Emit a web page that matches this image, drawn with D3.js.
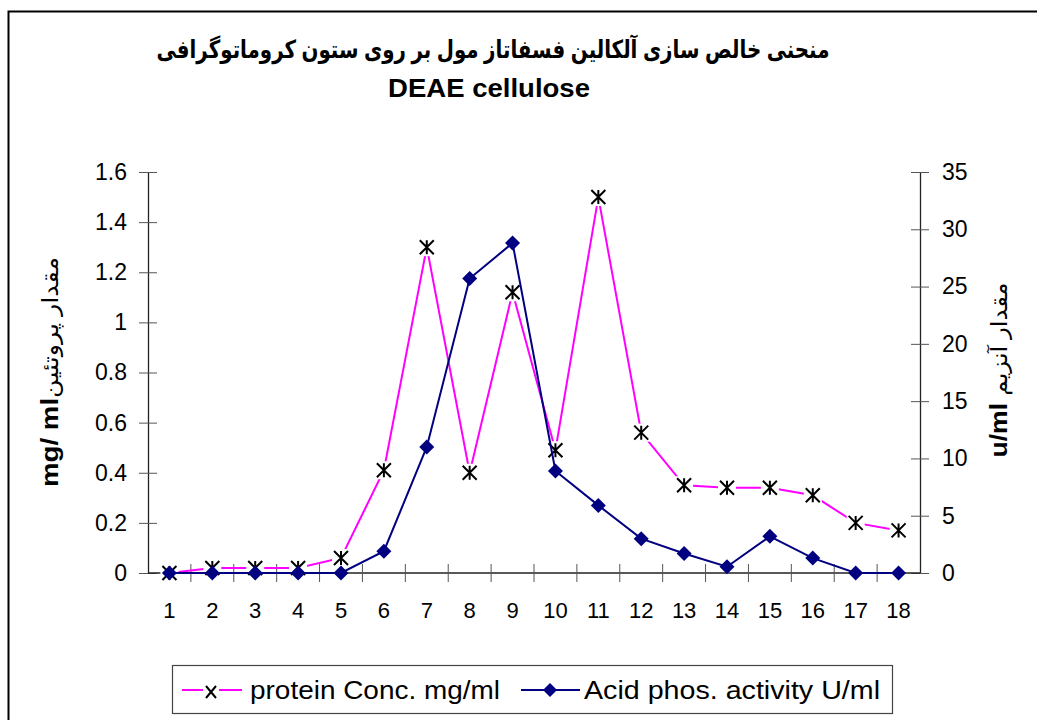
<!DOCTYPE html>
<html>
<head>
<meta charset="utf-8">
<script src="https://cdn.jsdelivr.net/npm/d3@7"></script>
<style>
  body { margin: 0; background: #fff; }
  svg { display: block; font-family: "Liberation Sans", Arial, "DejaVu Sans", sans-serif; }
</style>
</head>
<body>
<svg id="chart" width="1037" height="720"></svg>
<script>
// fractions 1..18
const fractions = ['1', '2', '3', '4', '5', '6', '7', '8', '9', '10', '11', '12', '13', '14', '15', '16', '17', '18'];
// protein Conc. mg/ml (left axis)
const protein = [0, 0.02, 0.02, 0.02, 0.06, 0.41, 1.3, 0.40, 1.12, 0.49, 1.5, 0.56, 0.35, 0.34, 0.34, 0.31, 0.20, 0.17];
// Acid phos. activity U/ml (right axis)
const activity = [0, 0, 0, 0, 0, 1.9, 11.0, 25.7, 28.8, 8.9, 5.9, 3.0, 1.7, 0.55, 3.2, 1.3, 0, 0];
const leftTicks = [0, 0.2, 0.4, 0.6, 0.8, 1, 1.2, 1.4, 1.6];
const rightTicks = [0, 5, 10, 15, 20, 25, 30, 35];

const titleLine1 = 'منحنی خالص سازی آلکالین فسفاتاز مول بر روی ستون کروماتوگرافی';
const titleLine2 = 'DEAE cellulose';
const leftLabel = ['mg/ ml', 'مقدار پروتئین'];
const rightLabel = ['u/ml ', 'مقدار آنزیم'];
const seriesNames = ['protein Conc. mg/ml', 'Acid phos. activity U/ml'];

const PINK = '#ff00ff', NAVY = '#000080';

const svg = d3.select('#chart');
const plot = { left: 148, right: 920, top: 172, bottom: 573 };

// outer chart border (only top and left visible in the crop)
svg.append('path')
    .attr('d', 'M8.5,720 V11.5 H1037')
    .attr('fill', 'none').attr('stroke', '#000').attr('stroke-width', 2);

// titles
svg.append('text')
    .attr('x', 493).attr('y', 58)
    .attr('text-anchor', 'middle')
    .attr('font-size', 25).attr('font-weight', 'bold')
    .attr('direction', 'rtl')
    .attr('textLength', 673).attr('lengthAdjust', 'spacingAndGlyphs')
    .text(titleLine1);
svg.append('text')
    .attr('x', 489).attr('y', 97)
    .attr('text-anchor', 'middle')
    .attr('font-size', 26).attr('font-weight', 'bold')
    .attr('textLength', 202).attr('lengthAdjust', 'spacingAndGlyphs')
    .text(titleLine2);

const x = d3.scaleBand().domain(fractions).range([plot.left, plot.right]);
const yL = d3.scaleLinear().domain([0, 1.6]).range([plot.bottom, plot.top]);
const yR = d3.scaleLinear().domain([0, 35]).range([plot.bottom, plot.top]);
const cx = function (d, i) { return x(fractions[i]) + x.bandwidth() / 2; };

// left axis
const axL = svg.append('g')
    .attr('transform', 'translate(' + plot.left + ',0)')
    .call(d3.axisLeft(yL).tickValues(leftTicks).tickFormat(d3.format('~g')).tickSizeInner(9).tickSizeOuter(0).tickPadding(12));
axL.selectAll('.tick line').attr('x2', 9).attr('x1', -9);

// right axis
const axR = svg.append('g')
    .attr('transform', 'translate(' + plot.right + ',0)')
    .call(d3.axisRight(yR).tickValues(rightTicks).tickSizeInner(9).tickSizeOuter(0).tickPadding(13));
axR.selectAll('.tick line').attr('x1', -9).attr('x2', 9);

// bottom axis: labels centred in bands, ticks on band boundaries
const axB = svg.append('g')
    .attr('transform', 'translate(0,' + plot.bottom + ')')
    .call(d3.axisBottom(x).tickSize(0).tickPadding(29));
axB.select('.domain').attr('d', 'M' + plot.left + ',0H' + plot.right);
axB.selectAll('.boundary')
    .data(fractions.slice(1))
    .join('line')
    .attr('class', 'boundary')
    .attr('x1', function (d) { return x(d); }).attr('x2', function (d) { return x(d); })
    .attr('y1', -9).attr('y2', 9)
    .attr('stroke', '#555');

[axL, axR, axB].forEach(function (a) {
    a.selectAll('text').attr('font-size', 23).attr('fill', '#000')
        .attr('font-family', '"Liberation Sans", Arial, sans-serif');
    a.select('.domain').attr('stroke', '#222').attr('stroke-width', 1.3);
    a.selectAll('.tick line').attr('stroke', '#555');
});
axB.selectAll('text').attr('font-size', 22);

// axis titles
const lt = svg.append('text')
    .attr('transform', 'translate(58,372) rotate(-90)')
    .attr('text-anchor', 'middle')
    .attr('font-size', 24)
    .attr('textLength', 230).attr('lengthAdjust', 'spacingAndGlyphs');
lt.append('tspan').attr('font-weight', 'bold').text(leftLabel[0]);
lt.append('tspan').attr('font-size', 22).text(leftLabel[1]);

const rt = svg.append('text')
    .attr('transform', 'translate(1007,370) rotate(-90)')
    .attr('text-anchor', 'middle')
    .attr('font-size', 24)
    .attr('textLength', 175).attr('lengthAdjust', 'spacingAndGlyphs');
rt.append('tspan').attr('font-weight', 'bold').text(rightLabel[0]);
rt.append('tspan').attr('font-size', 22).text(rightLabel[1]);

// protein series
const lineL = d3.line().x(cx).y(function (d) { return yL(d); });
svg.append('path').datum(protein)
    .attr('d', lineL)
    .attr('fill', 'none').attr('stroke', PINK).attr('stroke-width', 2);

function asterisk(g, s) {
    g.append('rect').attr('x', -s - 2).attr('y', -s - 2).attr('width', 2 * s + 4).attr('height', 2 * s + 4).attr('fill', '#fff');
    g.append('path')
        .attr('d', 'M' + (-s) + ',' + (-s) + 'L' + s + ',' + s + 'M' + (-s) + ',' + s + 'L' + s + ',' + (-s) + 'M0,' + (-s) + 'V' + s)
        .attr('stroke', '#000').attr('stroke-width', 2).attr('fill', 'none');
}

svg.selectAll('.pmark')
    .data(protein)
    .join('g')
    .attr('class', 'pmark')
    .attr('transform', function (d, i) { return 'translate(' + cx(d, i) + ',' + yL(d) + ')'; })
    .each(function () { asterisk(d3.select(this), 7); });

// activity series
const lineR = d3.line().x(cx).y(function (d) { return yR(d); });
svg.append('path').datum(activity)
    .attr('d', lineR)
    .attr('fill', 'none').attr('stroke', NAVY).attr('stroke-width', 2);

const diamond = 'M0,-7.5L7.5,0L0,7.5L-7.5,0Z';
svg.selectAll('.amark')
    .data(activity)
    .join('path')
    .attr('class', 'amark')
    .attr('d', diamond)
    .attr('fill', NAVY)
    .attr('transform', function (d, i) { return 'translate(' + cx(d, i) + ',' + yR(d) + ')'; });

// legend
const lg = svg.append('g');
lg.append('rect')
    .attr('x', 172.5).attr('y', 665.5).attr('width', 720).attr('height', 48)
    .attr('fill', '#fff').attr('stroke', '#444').attr('stroke-width', 1.2);
const ly = 690;
lg.append('line').attr('x1', 182).attr('x2', 242).attr('y1', ly).attr('y2', ly)
    .attr('stroke', PINK).attr('stroke-width', 2);
const lm = lg.append('g').attr('transform', 'translate(211,' + (ly + 2) + ')');
lm.append('rect').attr('x', -8).attr('y', -8).attr('width', 16).attr('height', 16).attr('fill', '#fff');
lm.append('path').attr('d', 'M-5,-6L5,6M-5,6L5,-6').attr('stroke', '#000').attr('stroke-width', 2);
lg.append('text').attr('x', 250).attr('y', ly + 9).attr('font-size', 25)
    .attr('textLength', 250).attr('lengthAdjust', 'spacingAndGlyphs')
    .text(seriesNames[0]);

lg.append('line').attr('x1', 521).attr('x2', 580).attr('y1', ly).attr('y2', ly)
    .attr('stroke', NAVY).attr('stroke-width', 2);
lg.append('path').attr('d', 'M0,-7L7,0L0,7L-7,0Z').attr('fill', NAVY)
    .attr('transform', 'translate(550,' + ly + ')');
lg.append('text').attr('x', 584).attr('y', ly + 9).attr('font-size', 25)
    .attr('textLength', 296).attr('lengthAdjust', 'spacingAndGlyphs')
    .text(seriesNames[1]);
</script>
</body>
</html>
